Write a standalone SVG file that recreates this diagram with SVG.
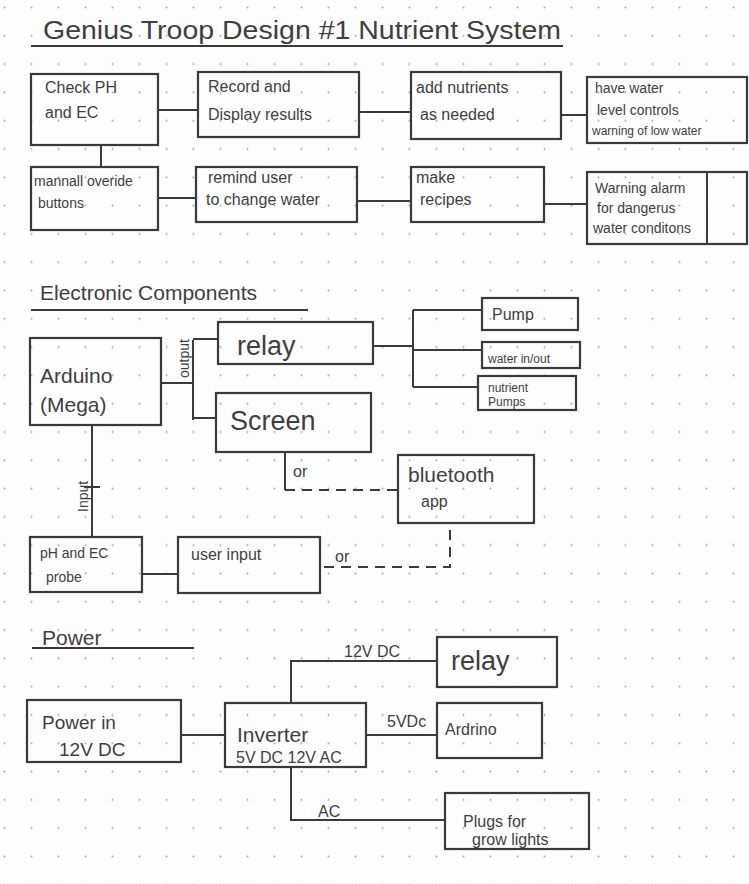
<svg xmlns="http://www.w3.org/2000/svg" width="749" height="884" viewBox="0 0 749 884">
<defs>
<pattern id="dots" x="3" y="6" width="27" height="28.3" patternUnits="userSpaceOnUse">
<circle cx="1.5" cy="1.5" r="1" fill="#a5a5a5"/>
</pattern>
</defs>
<style>
.box{fill:none;stroke:#3a3a3a;stroke-width:2.2}
.ln{fill:none;stroke:#3a3a3a;stroke-width:2}
.dash{fill:none;stroke:#3a3a3a;stroke-width:2;stroke-dasharray:10 7}
text{font-family:"Liberation Sans",Arial,sans-serif;fill:#3f3f3f}
.t16{font-size:16px}
.t14{font-size:14px}
.t12{font-size:12px}
.t19{font-size:19px}
.big{font-size:27px}
.h{font-size:21px}
</style>
<rect width="749" height="884" fill="#fdfdfd"/>
<rect width="749" height="884" fill="url(#dots)"/>

<!-- Title -->
<g id="title">
<text x="43" y="39" font-size="26" textLength="518" lengthAdjust="spacingAndGlyphs">Genius Troop  Design #1  Nutrient System</text>
<line class="ln" x1="31" y1="46" x2="563" y2="46"/>
</g>

<!-- connectors -->
<g id="connectors">
<!-- section 1 -->
<line class="ln" x1="158" y1="110" x2="198" y2="110"/>
<line class="ln" x1="359" y1="112" x2="411" y2="112"/>
<line class="ln" x1="561" y1="115" x2="587" y2="115"/>
<line class="ln" x1="101" y1="145" x2="101" y2="167"/>
<line class="ln" x1="158" y1="198" x2="196" y2="198"/>
<line class="ln" x1="357" y1="201" x2="411" y2="201"/>
<line class="ln" x1="544" y1="204" x2="587" y2="204"/>
<!-- section 2 -->
<line class="ln" x1="161" y1="383" x2="193" y2="383"/>
<line class="ln" x1="193" y1="340" x2="193" y2="420"/>
<line class="ln" x1="193" y1="339" x2="218" y2="339"/>
<line class="ln" x1="193" y1="418" x2="216" y2="418"/>
<line class="ln" x1="373" y1="346" x2="413" y2="346"/>
<line class="ln" x1="413" y1="310" x2="413" y2="387"/>
<line class="ln" x1="413" y1="310" x2="482" y2="310"/>
<line class="ln" x1="413" y1="350" x2="482" y2="350"/>
<line class="ln" x1="413" y1="387" x2="478" y2="387"/>
<line class="ln" x1="285" y1="452" x2="285" y2="490"/>
<line class="dash" x1="285" y1="490" x2="398" y2="490"/>
<polyline class="dash" points="450,530 450,567 321,567"/>
<line class="ln" x1="92" y1="425" x2="92" y2="537"/>
<line class="ln" x1="84" y1="487" x2="100" y2="487"/>
<line class="ln" x1="142" y1="574" x2="178" y2="574"/>
<!-- section 3 -->
<line class="ln" x1="181" y1="735" x2="225" y2="735"/>
<polyline class="ln" points="291,703 291,661 437,661"/>
<line class="ln" x1="366" y1="735" x2="437" y2="735"/>
<polyline class="ln" points="291,767 291,820 445,820"/>
</g>

<!-- Section 1 nodes -->
<g id="check-ph">
<rect class="box" x="31" y="74" width="127" height="71"/>
<text class="t16" x="45" y="93">Check PH</text>
<text class="t16" x="45" y="118">and EC</text>
</g>
<g id="record-display">
<rect class="box" x="198" y="72" width="161" height="65"/>
<text class="t16" x="208" y="92">Record and</text>
<text class="t16" x="208" y="120">Display results</text>
</g>
<g id="add-nutrients">
<rect class="box" x="411" y="72" width="150" height="67"/>
<text class="t16" x="416" y="93">add nutrients</text>
<text class="t16" x="420" y="120">as needed</text>
</g>
<g id="water-level">
<rect class="box" x="587" y="77" width="160" height="66"/>
<text class="t14" x="595" y="93">have water</text>
<text class="t14" x="597" y="115">level controls</text>
<text class="t12" x="592" y="135">warning of low water</text>
</g>
<g id="manual-override">
<rect class="box" x="31" y="167" width="127" height="63"/>
<text class="t14" x="34" y="186">mannall overide</text>
<text class="t14" x="38" y="208">buttons</text>
</g>
<g id="remind-user">
<rect class="box" x="196" y="167" width="161" height="55"/>
<text class="t16" x="208" y="183">remind user</text>
<text class="t16" x="206" y="205">to change water</text>
</g>
<g id="make-recipes">
<rect class="box" x="411" y="167" width="133" height="55"/>
<text class="t16" x="416" y="183">make</text>
<text class="t16" x="420" y="205">recipes</text>
</g>
<g id="warning-alarm">
<rect class="box" x="587" y="172" width="160" height="72"/>
<line class="ln" x1="707" y1="172" x2="707" y2="244"/>
<text class="t14" x="595" y="193">Warning alarm</text>
<text class="t14" x="597" y="213">for dangerus</text>
<text class="t14" x="593" y="233">water conditons</text>
</g>

<!-- Section 2 -->
<g id="electronic-heading">
<text class="h" x="40" y="300">Electronic Components</text>
<line class="ln" x1="31" y1="310" x2="308" y2="310"/>
</g>
<g id="arduino-mega">
<rect class="box" x="30" y="338" width="131" height="87"/>
<text class="h" x="40" y="383">Arduino</text>
<text class="h" x="40" y="412">(Mega)</text>
<text class="t14" transform="translate(189,378) rotate(-90)" x="0" y="0">output</text>
<text class="t14" transform="translate(88,512) rotate(-90)" x="0" y="0">Input</text>
</g>
<g id="relay">
<rect class="box" x="218" y="322" width="155" height="42"/>
<text class="big" x="237" y="355">relay</text>
</g>
<g id="screen">
<rect class="box" x="216" y="393" width="155" height="59"/>
<text class="big" x="230" y="430">Screen</text>
<text class="t16" x="293" y="477">or</text>
</g>
<g id="pump">
<rect class="box" x="482" y="298" width="96" height="32"/>
<text class="t16" x="492" y="320">Pump</text>
</g>
<g id="water-in-out">
<rect class="box" x="482" y="342" width="98" height="26"/>
<text class="t12" x="488" y="363">water in/out</text>
</g>
<g id="nutrient-pumps">
<rect class="box" x="478" y="376" width="98" height="34"/>
<text class="t12" x="488" y="392">nutrient</text>
<text class="t12" x="488" y="406">Pumps</text>
</g>
<g id="bluetooth-app">
<rect class="box" x="398" y="455" width="136" height="68"/>
<text class="h" x="408" y="482">bluetooth</text>
<text class="t16" x="421" y="507">app</text>
</g>
<g id="ph-ec-probe">
<rect class="box" x="30" y="537" width="112" height="55"/>
<text class="t14" x="40" y="558">pH and EC</text>
<text class="t14" x="46" y="582">probe</text>
</g>
<g id="user-input">
<rect class="box" x="178" y="537" width="142" height="56"/>
<text class="t16" x="191" y="560">user input</text>
<text class="t16" x="335" y="562">or</text>
</g>

<!-- Section 3 -->
<g id="power-heading">
<text class="h" x="42" y="645">Power</text>
<line class="ln" x1="32" y1="648" x2="194" y2="648"/>
</g>
<g id="power-in">
<rect class="box" x="27" y="700" width="154" height="62"/>
<text class="t19" x="42" y="729">Power in</text>
<text class="t19" x="59" y="756">12V DC</text>
</g>
<g id="inverter">
<rect class="box" x="225" y="703" width="141" height="64"/>
<text class="h" x="237" y="742">Inverter</text>
<text class="t16" x="236" y="763">5V DC 12V AC</text>
<text class="t16" x="344" y="657">12V DC</text>
<text class="t16" x="387" y="727">5VDc</text>
<text class="t16" x="318" y="817">AC</text>
</g>
<g id="power-relay">
<rect class="box" x="437" y="637" width="120" height="50"/>
<text class="big" x="451" y="670">relay</text>
</g>
<g id="ardrino">
<rect class="box" x="437" y="703" width="105" height="55"/>
<text class="t16" x="445" y="735">Ardrino</text>
</g>
<g id="plugs">
<rect class="box" x="445" y="793" width="144" height="56"/>
<text class="t16" x="463" y="827">Plugs for</text>
<text class="t16" x="472" y="845">grow lights</text>
</g>
</svg>
